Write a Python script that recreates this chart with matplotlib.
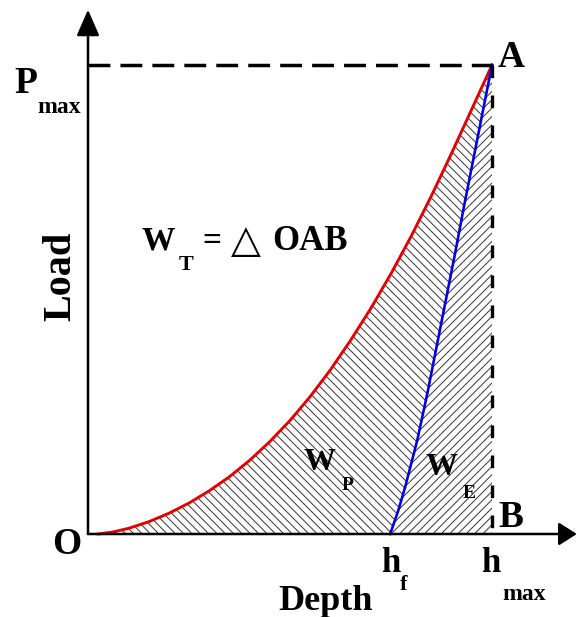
import matplotlib
matplotlib.use("Agg")
import matplotlib.pyplot as plt

# loading branch O -> A, depth and load normalised by h_max and P_max
depth_load = [0.025, 0.06, 0.10, 0.15, 0.20, 0.25, 0.30, 0.35, 0.40, 0.45, 0.50,
              0.55, 0.60, 0.65, 0.70, 0.75, 0.80, 0.85, 0.90, 0.95, 1.0]
load_load = [0.0, 0.004, 0.012, 0.026, 0.044, 0.066, 0.092, 0.122, 0.157, 0.197,
             0.242, 0.293, 0.350, 0.413, 0.481, 0.555, 0.635, 0.721, 0.812,
             0.906, 1.0]

# unloading branch h_f -> A
depth_unload = [0.748, 0.768, 0.785, 0.815, 0.840, 0.863, 0.886, 0.909, 0.931,
                0.954, 0.977, 1.0]
load_unload = [0.0, 0.05, 0.10, 0.20, 0.30, 0.40, 0.50, 0.60, 0.70, 0.80, 0.90,
               1.0]

h_max = 1.0
p_max = 1.0

W, H = 577, 617
fig = plt.figure(figsize=(W / 100, H / 100), dpi=100)
ax = fig.add_axes([88 / W, 1 - 534 / H, 404 / W, 469 / H])
ax.set_xlim(0, h_max)
ax.set_ylim(0, p_max)
ax.axis("off")

plt.rcParams["hatch.linewidth"] = 0.7
hatch_col = "#333333"

# W_P: between loading and unloading curves
wp_x = depth_load + depth_unload[::-1][1:]
wp_y = load_load + load_unload[::-1][1:]
ax.fill(wp_x, wp_y, facecolor="none", edgecolor=hatch_col, hatch="\\\\\\\\",
        linewidth=0, clip_on=False)
# W_E: between unloading curve and h_max
we_x = depth_unload + [h_max]
we_y = load_unload + [0.0]
ax.fill(we_x, we_y, facecolor="none", edgecolor=hatch_col, hatch="////",
        linewidth=0, clip_on=False)

ax.plot(depth_load, load_load, color="#e00000", lw=2.1, clip_on=False)
ax.plot(depth_unload, load_unload, color="#0000dd", lw=1.9, clip_on=False)

# P_max and h_max guide lines
ax.plot([0, h_max], [p_max, p_max], color="k", lw=2.5,
        linestyle=(0, (6.3, 2.9)), clip_on=False)
ax.plot([h_max, h_max], [p_max, 0], color="k", lw=2.4,
        linestyle=(0, (3.8, 5.2)), clip_on=False)

# axes with arrow heads
ax.annotate("", xy=(1.21, 0), xytext=(0, 0), annotation_clip=False,
            arrowprops=dict(arrowstyle="-|>,head_length=0.55,head_width=0.35",
                            color="k", lw=1.8, mutation_scale=20,
                            shrinkA=0, shrinkB=0))
ax.annotate("", xy=(0, 1.118), xytext=(0, 0), annotation_clip=False,
            arrowprops=dict(arrowstyle="-|>,head_length=0.8,head_width=0.35",
                            color="k", lw=1.8, mutation_scale=20,
                            shrinkA=0, shrinkB=0))


def put(x, y, s, size, family="Liberation Serif", weight="bold", **kw):
    # x, y in pixels from the top-left corner, y is the baseline
    fig.text(x / W, 1 - y / H, s, fontsize=size, fontweight=weight,
             family=family, ha="center", va="baseline", **kw)


put(26, 93, "P", 27)
put(59, 113, "max", 17)
put(511, 67, "A", 27)
put(511, 527, "B", 27)
put(67, 554, "O", 27)
put(70, 276, "Load", 29, rotation=90, rotation_mode="anchor")
put(326, 610, "Depth", 26)
put(391, 572, "h", 25)
put(404, 590, "f", 16)
put(491, 572, "h", 25)
put(524, 600, "max", 17)

put(158, 250, "W", 24)
put(186, 270, "T", 16)
put(212, 250, "=", 24)
put(246, 252, "\u25b3", 28, family="DejaVu Sans", weight="normal")
put(310, 250, "OAB", 25)

put(319, 470, "W", 23)
put(348, 490, "P", 14)
put(442, 475, "W", 23)
put(469, 498, "E", 14)

fig.savefig("out.png", dpi=100)
